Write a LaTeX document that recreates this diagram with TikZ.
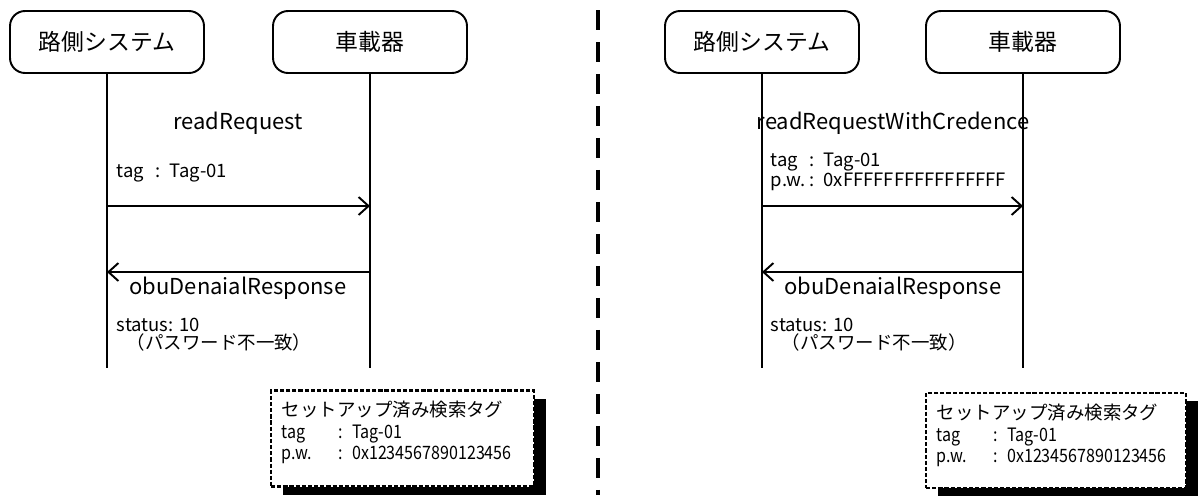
\documentclass[tikz,border=0pt]{standalone}
\usepackage{fontspec}
\setmainfont{Noto Sans CJK JP}
\newfontfamily\narrowfont[FakeStretch=0.87]{Noto Sans CJK JP}
\usetikzlibrary{arrows.meta,shadows}

\begin{document}
\begin{tikzpicture}[x=0.02cm,y=-0.02cm,line width=1.1pt,>={Straight Barb[length=0.2cm,width=0.36cm]},
  head/.style={draw,rounded corners=0.3cm,minimum width=3.88cm,minimum height=1.24cm,font=\fontsize{13}{15}\selectfont},
  msg/.style={inner sep=0pt,font=\fontsize{12.5}{14}\selectfont},
  param/.style={anchor=west,inner sep=0pt,font=\fontsize{10.5}{12}\selectfont},
  memo/.style={draw,line width=1.6pt,dash pattern=on 2.4pt off 1.1pt,fill=white,
    drop shadow={shadow xshift=0.24cm,shadow yshift=-0.16cm,fill=black,opacity=1}},
  memotext/.style={anchor=north west,inner sep=0pt,align=left,font=\fontsize{10.5}{12.3}\selectfont}]
\useasboundingbox (0,0) rectangle (1200,495);

\node[head] (road1) at (107,42) {路側システム};
\node[head] (obu1) at (370,42) {車載器};
\coordinate (road1end) at (107,368);
\coordinate (obu1end) at (370,368);
\draw (road1) -- (road1end);
\draw (obu1) -- (obu1end);

\coordinate (road1req) at (107,206);
\coordinate (obu1req) at (370,206);
\coordinate (road1res) at (107,272);
\coordinate (obu1res) at (370,272);
\draw[->] (road1req) -- (obu1req);
\draw[->] (obu1res) -- (road1res);

\node[msg] (req1) at (238,123) {readRequest};
\node[param] (req1tag) at (116,173) {\makebox[22pt][l]{tag}\makebox[8pt][l]{:}Tag-01};
\node[msg] (res1) at (238,288) {obuDenaialResponse};
\node[param] (res1status) at (116,325) {status: 10};
\node[param] (res1reason) at (126,342) {（パスワード不一致）};

\node[memo,minimum width=5.26cm,minimum height=1.92cm] (memo1) at (402.5,438.5) {};
\node[memotext] (memo1text) at (281,400) {セットアップ済み検索タグ\\
  {\narrowfont\makebox[32pt][l]{tag}\makebox[8pt][l]{:}Tag-01}\\
  {\narrowfont\makebox[32pt][l]{p.w.}\makebox[8pt][l]{:}0x1234567890123456}};

\coordinate (divtop) at (598,10);
\coordinate (divbot) at (598,495);
\draw[line width=2.2pt,dash pattern=on 0.4cm off 0.24cm] (divtop) -- (divbot);

\node[head] (road2) at (762,42) {路側システム};
\node[head] (obu2) at (1023,42) {車載器};
\coordinate (road2end) at (762,368);
\coordinate (obu2end) at (1023,368);
\draw (road2) -- (road2end);
\draw (obu2) -- (obu2end);

\coordinate (road2req) at (762,206);
\coordinate (obu2req) at (1023,206);
\coordinate (road2res) at (762,272);
\coordinate (obu2res) at (1023,272);
\draw[->] (road2req) -- (obu2req);
\draw[->] (obu2res) -- (road2res);

\node[msg] (req2) at (893,123) {readRequestWithCredence};
\node[param] (req2tag) at (770,162) {\makebox[22pt][l]{tag}\makebox[8pt][l]{:}Tag-01};
\node[param] (req2pw) at (770,182) {\makebox[22pt][l]{p.w.}\makebox[8pt][l]{:}0xFFFFFFFFFFFFFFFF};
\node[msg] (res2) at (893,288) {obuDenaialResponse};
\node[param] (res2status) at (770,325) {status: 10};
\node[param] (res2reason) at (781,342) {（パスワード不一致）};

\node[memo,minimum width=5.2cm,minimum height=1.9cm] (memo2) at (1056,440.5) {};
\node[memotext] (memo2text) at (936,403) {セットアップ済み検索タグ\\
  {\narrowfont\makebox[32pt][l]{tag}\makebox[8pt][l]{:}Tag-01}\\
  {\narrowfont\makebox[32pt][l]{p.w.}\makebox[8pt][l]{:}0x1234567890123456}};
\end{tikzpicture}
\end{document}
